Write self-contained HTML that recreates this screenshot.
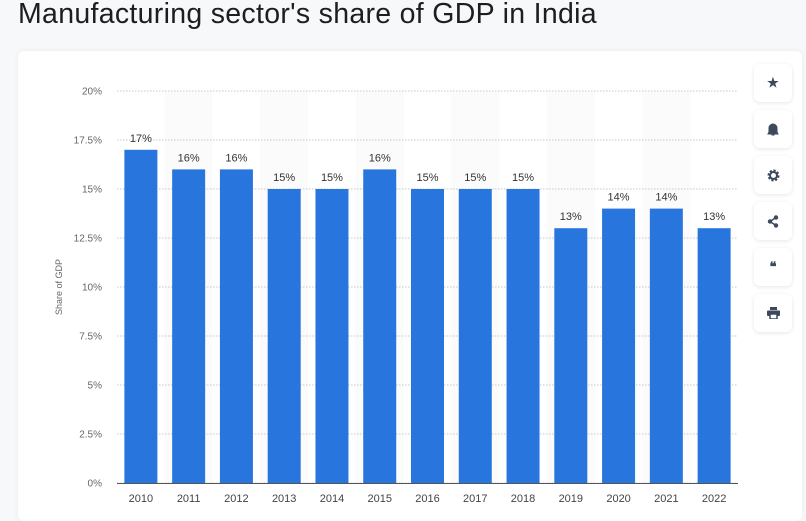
<!DOCTYPE html>
<html><head><meta charset="utf-8"><style>
body{margin:0;width:806px;height:510px;background:#f7f8f9;font-family:"Liberation Sans",sans-serif;overflow:hidden;position:relative}
#title{position:absolute;left:18px;top:-2px;font-size:28.5px;color:#1e1e1e;letter-spacing:0.3px}
#card{position:absolute;left:18px;top:51px;width:784px;height:470px;background:#fff;border-radius:6px;box-shadow:0 0 6px rgba(0,0,0,.05)}
.btn{position:absolute;left:754px;width:38px;height:38px;background:#fff;border-radius:6px;box-shadow:0 1px 4px rgba(0,0,0,.1);display:flex;align-items:center;justify-content:center;color:#3c4a5c;font-size:13px;font-weight:bold}
</style></head><body>
<div id="title">Manufacturing sector's share of GDP in India</div>
<div id="card"></div>
<svg id="chart" width="806" height="510" style="position:absolute;left:0;top:0"></svg>
<div class="btn" style="top:64px">★</div>
<div class="btn" style="top:110px"><svg width="12" height="13"><path d="M6 1a4 4 0 0 1 4 4v4l1 2H1l1-2V5a4 4 0 0 1 4-4z M4.5 12h3" fill="#3c4a5c" stroke="#3c4a5c"/></svg></div>
<div class="btn" style="top:156px"><svg width="13" height="13"><circle cx="6.5" cy="6.5" r="4.5" fill="none" stroke="#3c4a5c" stroke-width="3" stroke-dasharray="2 1.5"/><circle cx="6.5" cy="6.5" r="3.5" fill="none" stroke="#3c4a5c" stroke-width="2"/></svg></div>
<div class="btn" style="top:202px"><svg width="12" height="13"><circle cx="9" cy="2.5" r="2.2" fill="#3c4a5c"/><circle cx="9" cy="10.5" r="2.2" fill="#3c4a5c"/><circle cx="3" cy="6.5" r="2.2" fill="#3c4a5c"/><path d="M9 2.5L3 6.5L9 10.5" stroke="#3c4a5c" stroke-width="1.5" fill="none"/></svg></div>
<div class="btn" style="top:248px;font-size:13px">❝</div>
<div class="btn" style="top:294px"><svg width="13" height="12"><rect x="3" y="0" width="7" height="3" fill="#3c4a5c"/><rect x="0" y="3.5" width="13" height="5.5" rx="1" fill="#3c4a5c"/><rect x="3" y="7" width="7" height="5" fill="#fff" stroke="#3c4a5c" stroke-width="1.5"/></svg></div>
<script>
const categories=["2010","2011","2012","2013","2014","2015","2016","2017","2018","2019","2020","2021","2022"];
const values=[17,16,16,15,15,16,15,15,15,13,14,14,13];
const labels=["17%","16%","16%","15%","15%","16%","15%","15%","15%","13%","14%","14%","13%"];
const ticks=[0,2.5,5,7.5,10,12.5,15,17.5,20];
const tickLabels=["0%","2.5%","5%","7.5%","10%","12.5%","15%","17.5%","20%"];
const svg=document.getElementById('chart');const NS="http://www.w3.org/2000/svg";
const x0=117,x1=738,yTop=91,yBot=483,yMax=20;
const band=(x1-x0)/categories.length;
const y=v=>yBot-(v/yMax)*(yBot-yTop);
const xs=i=>x0+i*band;
function mk(t,a,txt){const e=document.createElementNS(NS,t);for(const k in a)e.setAttribute(k,a[k]);if(txt!=null)e.textContent=txt;svg.appendChild(e);return e;}
categories.forEach((c,i)=>{if(i%2==1){const r=mk('rect',{x:xs(i),y:yTop,width:band,height:yBot-yTop,fill:'#fbfbfb'});

}});
ticks.forEach((t,i)=>{const l=mk('line',{x1:x0,x2:x1,y1:y(t),y2:y(t),stroke:'#c8c8c8','stroke-dasharray':'1.5 1.5'});


const tx=mk('text',{x:102,y:y(t)+3.5,'text-anchor':'end','font-size':'10',fill:'#666'},tickLabels[i]);

});
const bw=33;
categories.forEach((c,i)=>{const cx=xs(i)+band/2;
const b=mk('rect',{x:cx-bw/2,y:y(values[i]),width:bw,height:yBot-y(values[i]),fill:'#2876dd'});


const v=mk('text',{x:cx,y:y(values[i])-8,'text-anchor':'middle','font-size':'11',fill:'#333'},labels[i]);


const xl=mk('text',{x:cx,y:502,'text-anchor':'middle','font-size':'11',fill:'#444'},c);

});
const ax=mk('line',{x1:x0,x2:x1,y1:yBot+0.5,y2:yBot+0.5,stroke:'#555'});


const yt=mk('text',{x:0,y:0,'font-size':'9',fill:'#666','text-anchor':'middle',transform:'translate(62,287) rotate(-90)'},'Share of GDP');


</script>
</body></html>
